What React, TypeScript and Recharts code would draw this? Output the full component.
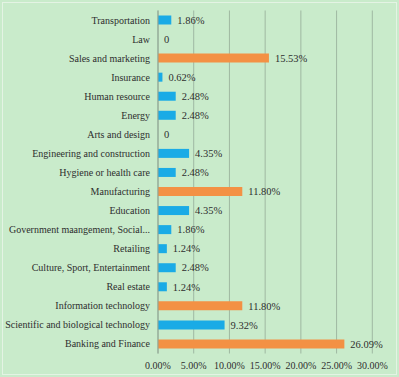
import React from 'react';
import { BarChart, Bar, XAxis, YAxis, CartesianGrid, Cell, LabelList } from 'recharts';

const categories = [
  'Transportation',
  'Law',
  'Sales and marketing',
  'Insurance',
  'Human resource',
  'Energy',
  'Arts and design',
  'Engineering and construction',
  'Hygiene or health care',
  'Manufacturing',
  'Education',
  'Government maangement, Social...',
  'Retailing',
  'Culture, Sport, Entertainment',
  'Real estate',
  'Information technology',
  'Scientific and biological technology',
  'Banking and Finance',
];

const shares = [1.86, 0, 15.53, 0.62, 2.48, 2.48, 0, 4.35, 2.48, 11.8, 4.35, 1.86, 1.24, 2.48, 1.24, 11.8, 9.32, 26.09];

// categories drawn in orange
const highlighted = ['Sales and marketing', 'Manufacturing', 'Information technology', 'Banking and Finance'];

const xTicks = [0, 5, 10, 15, 20, 25, 30];

const chartData = categories.map((name, i) => ({ name, value: shares[i] }));

const FONT = '"Liberation Serif", serif';
const TEXT = '#2e2e2e';

// single-line category label (recharts would wrap long ones)
const CategoryTick = ({ x, y, payload }: any) => (
  <text x={x} y={y} dy="0.35em" textAnchor="end" fontSize={10} fill={TEXT} fontFamily={FONT}>
    {payload.value}
  </text>
);

export default function App() {
  return (
    <div
      style={{
        position: 'absolute',
        left: 0,
        top: 0,
        width: 399,
        height: 377,
        background: '#c9ebcb',
      }}
    >
      <div
        style={{
          position: 'absolute',
          left: 2,
          top: 2,
          width: 393,
          height: 371,
          border: '1px solid #e4f3e4',
        }}
      />
      <BarChart
        width={399}
        height={377}
        data={chartData}
        layout="vertical"
        margin={{ top: 10.5, right: 26.7, left: 0, bottom: 3.5 }}
        barCategoryGap={0}
      >
        <CartesianGrid horizontal={false} stroke="#9fb8a2" strokeWidth={1} />
        <XAxis
          type="number"
          domain={[0, 30]}
          ticks={xTicks}
          interval={0}
          height={20}
          axisLine={false}
          tickLine={false}
          tickFormatter={(v: number) => `${v.toFixed(2)}%`}
          tick={{ fontSize: 10, fill: TEXT, fontFamily: FONT }}
        />
        <YAxis
          type="category"
          dataKey="name"
          width={158}
          interval={0}
          axisLine={{ stroke: '#8fa592' }}
          tickLine={false}
          tick={<CategoryTick />}
        />
        <Bar dataKey="value" barSize={9} minPointSize={0.01} isAnimationActive={false}>
          {chartData.map((d) => (
            <Cell key={d.name} fill={highlighted.includes(d.name) ? '#f39144' : '#1aabe6'} />
          ))}
          <LabelList
            dataKey="value"
            position="right"
            offset={6}
            formatter={(v: any) => (Number(v) === 0 ? '0' : `${Number(v).toFixed(2)}%`)}
            style={{ fontSize: 10.5, fill: TEXT, fontFamily: FONT }}
          />
        </Bar>
      </BarChart>
    </div>
  );
}
